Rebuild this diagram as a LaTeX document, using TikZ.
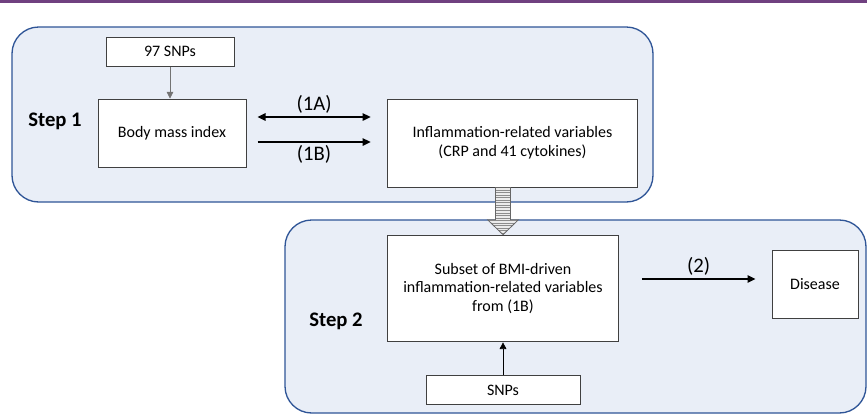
\documentclass[tikz,border=0pt]{standalone}
\usepackage{fontspec}
\setmainfont{Carlito}
\usetikzlibrary{arrows.meta,calc}

\definecolor{panelfill}{RGB}{233,238,247}
\definecolor{paneldraw}{RGB}{47,85,151}
\definecolor{rulepurple}{RGB}{112,64,128}

\begin{document}
\begin{tikzpicture}[x=0.75pt,y=-0.75pt,
  panel/.style={draw=paneldraw,fill=panelfill,line width=1pt,rounded corners=20pt},
  box/.style={draw=black!75,fill=white,line width=0.75pt,align=center,inner sep=2pt,
    font=\fontsize{12}{14}\selectfont},
  steplabel/.style={font=\fontsize{15.5}{18}\selectfont\bfseries},
  arrowlabel/.style={font=\fontsize{15.5}{18}\selectfont,inner sep=2pt},
  route/.style={-{Triangle[length=6pt,width=5.5pt]},line width=1.2pt},
  feed/.style={-{Triangle[length=5pt,width=5pt]},line width=0.5pt},
  fatarrow/.style={draw=black!60,line width=0.6pt,fill=black!8,
    path picture={
      \foreach \k in {1,...,26}
        \draw[black!45,line width=0.45pt]
          ([yshift=-\k*1.9pt]path picture bounding box.north west) --
          ([yshift=-\k*1.9pt]path picture bounding box.north east);}}
]
  \useasboundingbox (0,0) rectangle (867,415);

  % header rule
  \draw[rulepurple,line width=2.4pt] (0,1.6) -- (867,1.6);

  % the two step panels
  \draw[panel] (12,27) rectangle (653,202);
  \draw[panel] (285,220) rectangle (866,413);

  % step 1
  \node[steplabel] (step1) at (55,121) {Step 1};
  \node[box,minimum width=96pt,minimum height=21.75pt] (snps97) at (170,51.5) {97 SNPs};
  \node[box,minimum width=111pt,minimum height=51pt] (bmi) at (172,133) {Body mass index};
  \node[box,minimum width=188pt,minimum height=66pt] (inflam) at (512.5,143)
    {Inflammation-related variables\\(CRP and 41 cytokines)};

  % step 2
  \node[steplabel] (step2) at (336,321) {Step 2};
  \node[box,minimum width=173pt,minimum height=80pt] (subset) at (503,288.5)
    {Subset of BMI-driven\\inflammation-related variables\\from (1B)};
  \node[box,minimum width=115.5pt,minimum height=21.75pt] (snps) at (503,390) {SNPs};
  \node[box,minimum width=64.5pt,minimum height=51pt] (disease) at (815,284) {Disease};

  % instruments
  \draw[feed,draw=black!55] (snps97.south) -- (snps97.south |- bmi.north);
  \draw[feed] (snps.north) -- (subset.south);

  % MR directions
  \draw[route,{Triangle[length=6pt,width=5.5pt]}-{Triangle[length=6pt,width=5.5pt]}]
    ([shift={(11,-16)}]bmi.east) -- node[arrowlabel,above] (lab1a) {(1A)}
    ([shift={(-16,-26)}]inflam.west);
  \draw[route] ([shift={(11,9)}]bmi.east) -- node[arrowlabel,below] (lab1b) {(1B)}
    ([shift={(-16,-1)}]inflam.west);
  \draw[route] ([shift={(23,-9.5)}]subset.east) -- node[arrowlabel,above] (lab2) {(2)}
    ([shift={(-16,-5)}]disease.west);

  % carry-over arrow between the steps
  \coordinate (ftop) at (subset.north |- inflam.south);
  \path[fatarrow] ($(ftop)+(-7.5,0)$) -- ($(subset.north)+(-7.5,-15)$)
    -- ($(subset.north)+(-15.5,-15)$) -- (subset.north)
    -- ($(subset.north)+(15.5,-15)$) -- ($(subset.north)+(7.5,-15)$)
    -- ($(ftop)+(7.5,0)$) -- cycle;
\end{tikzpicture}
\end{document}
